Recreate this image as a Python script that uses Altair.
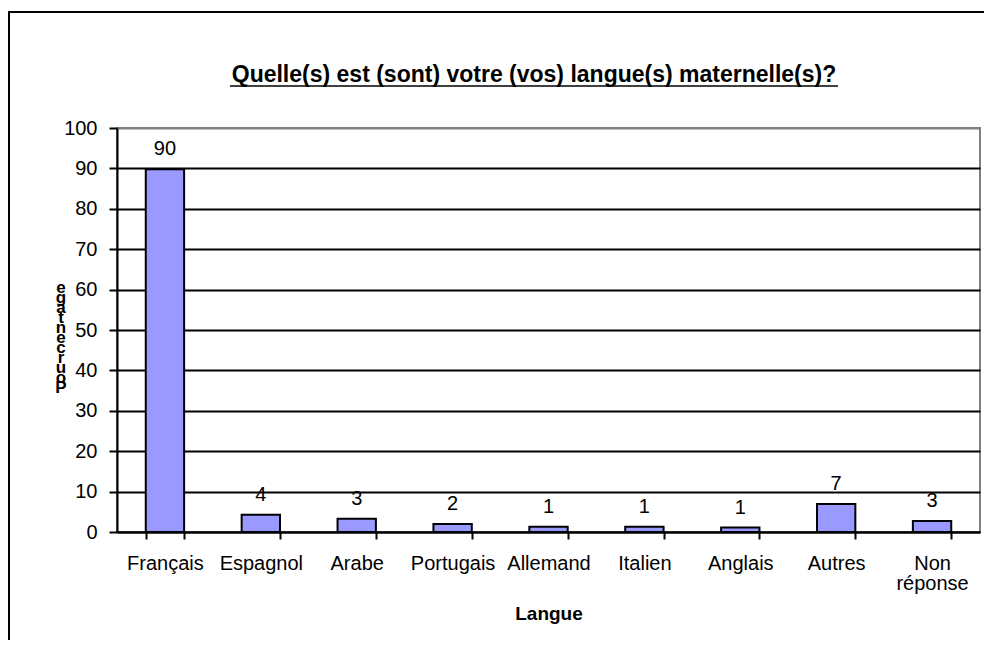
import altair as alt
import pandas as pd

categories = ["Français", "Espagnol", "Arabe", "Portugais", "Allemand",
              "Italien", "Anglais", "Autres", "Non réponse"]
values = [89.8, 4.3, 3.3, 2.0, 1.3, 1.3, 1.1, 6.9, 2.7]
labels = [90, 4, 3, 2, 1, 1, 1, 7, 3]
title_text = "Quelle(s) est (sont) votre (vos) langue(s) maternelle(s)?"
x_title = "Langue"
y_title_letters = list("egatnecruoP")
y_ticks = list(range(0, 101, 10))

df = pd.DataFrame({"Langue": categories, "pct": values, "label": labels})

W, H = 863, 404
FONT = "Liberation Sans"

x = alt.X(
    "Langue:N", sort=categories,
    scale=alt.Scale(paddingInner=0.6, paddingOuter=0.3),
    axis=alt.Axis(
        title=x_title, labelAngle=0, tickBand="extent",
        labelExpr="split(datum.label, ' ')", labelLineHeight=20,
        labelPadding=14, tickSize=7, titleY=81, titleBaseline="middle",
        titleFontWeight="bold", titleFontSize=19, labelFontSize=20,
        labelColor="black", titleColor="black",
    ),
)
y = alt.Y(
    "pct:Q", scale=alt.Scale(domain=[0, 100], nice=False),
    axis=alt.Axis(
        values=y_ticks, title=None, tickSize=8, labelPadding=12,
        labelFontSize=20, labelColor="black",
        gridColor={"condition": {"test": "datum.value >= 100", "value": "#808080"},
                   "value": "black"},
        gridWidth=2,
    ),
)

base = alt.Chart(df)
bars = base.mark_bar(color="#9999FF", stroke="black", strokeWidth=2).encode(x=x, y=y)
texts = base.mark_text(dy=-20, baseline="middle", fontSize=20, font=FONT,
                       color="black").encode(x=x, y=y, text="label:Q")

one = pd.DataFrame({"t": [title_text]})
title = alt.Chart(one).mark_text(fontSize=23, fontWeight="bold", font=FONT,
                                 align="center", baseline="middle",
                                 color="black").encode(
    x=alt.value(417), y=alt.value(-53), text="t:N")
underline = alt.Chart(one).mark_rule(color="black", strokeWidth=1.5).encode(
    x=alt.value(113), x2=alt.value(721), y=alt.value(-42))
ytitle = alt.Chart(one).mark_text(fontSize=17, fontWeight="bold", font=FONT,
                                  lineHeight=10, align="center",
                                  baseline="middle", color="black").encode(
    x=alt.value(-56), y=alt.value(160), text=alt.value(y_title_letters))
frame = alt.Chart(one).mark_rect(fillOpacity=0, stroke="black", strokeWidth=2).encode(
    x=alt.value(-108), y=alt.value(-116), x2=alt.value(W + 200), y2=alt.value(H + 300))

chart = alt.layer(frame, bars, texts, title, underline, ytitle).properties(
    width=W, height=H,
    autosize=alt.AutoSizeParams(type="none"),
    padding={"left": 109, "top": 120, "right": 4, "bottom": 108},
    background="white",
).configure(font=FONT).configure_view(
    stroke="#808080", strokeWidth=2
).configure_axis(
    domainColor="black", domainWidth=2, tickColor="black", tickWidth=2,
    grid=False,
).configure_axisY(grid=True)

chart.save("out.html", embed_options={"renderer": "svg", "actions": False})
